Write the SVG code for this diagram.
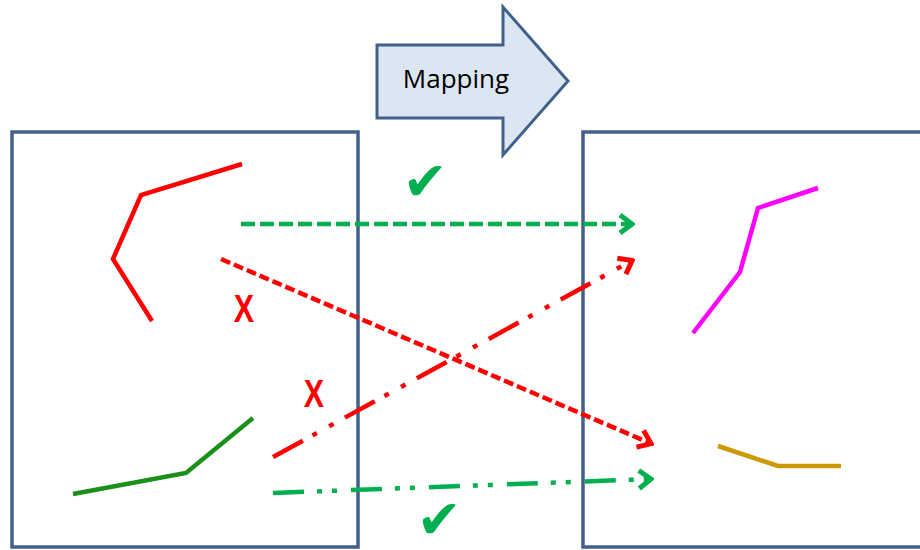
<svg xmlns="http://www.w3.org/2000/svg" width="920" height="550" viewBox="0 0 920 550">
  <style>
    .frame { fill: #ffffff; stroke: #41618A; stroke-width: 3.5; }
    .shape { fill: none; stroke-width: 4.5; stroke-linejoin: miter; }
    .conn { fill: none; stroke-width: 4.5; }
    .mark { font-family: "Liberation Sans", Arial, sans-serif; font-weight: bold; }
    .check { font-family: "DejaVu Sans", sans-serif; fill: #00B050; font-size: 54px; text-anchor: middle; }
  </style>
  <defs>
    <marker id="arrGreen" viewBox="0 0 18 24" refX="16" refY="12" markerWidth="18" markerHeight="24" markerUnits="userSpaceOnUse" orient="auto">
      <path d="M3,3 L15,12 L3,21" fill="none" stroke="#00B050" stroke-width="5"/>
    </marker>
    <marker id="arrRed" viewBox="0 0 18 24" refX="16" refY="12" markerWidth="18" markerHeight="24" markerUnits="userSpaceOnUse" orient="auto">
      <path d="M3,3 L15,12 L3,21" fill="none" stroke="#FF0000" stroke-width="5"/>
    </marker>
  </defs>
  <rect width="920" height="550" fill="#ffffff"/>

  <g id="mapping-arrow">
    <polygon points="377,45 503,45 503,7 568,81 503,155 503,118 377,118" fill="#DCE6F2" stroke="#41618A" stroke-width="3"/>
    <text x="456" y="88" font-family="'Open Sans', 'Liberation Sans', sans-serif" font-size="26" font-weight="500" text-anchor="middle" fill="#000000">Mapping</text>
  </g>

  <g id="left-box">
    <rect class="frame" x="12" y="132" width="346" height="415"/>
  </g>
  <g id="right-box">
    <rect class="frame" x="583" y="132" width="400" height="415"/>
  </g>

  <g id="red-curve">
    <polyline class="shape" stroke="#FF0000" points="242,164 141,195 113,259 152,321"/>
  </g>
  <g id="green-curve">
    <polyline class="shape" stroke="#1A8F1A" points="73,494 186,473 253,418"/>
  </g>
  <g id="magenta-curve">
    <polyline class="shape" stroke="#FF00FF" points="693,333 740,272 758,208 818,188"/>
  </g>
  <g id="gold-curve">
    <polyline class="shape" stroke="#CC9900" points="718,446 778,466 841,466"/>
  </g>

  <g id="connectors">
    <line class="conn" x1="241" y1="224" x2="633" y2="224" stroke="#00B050" stroke-dasharray="14 5" marker-end="url(#arrGreen)"/>
    <line class="conn" x1="221" y1="259" x2="652" y2="444" stroke="#FF0000" stroke-dasharray="10 4" marker-end="url(#arrRed)"/>
    <line class="conn" x1="273" y1="457" x2="633" y2="260" stroke="#FF0000" stroke-dasharray="34 11 5 14 5 13" marker-end="url(#arrRed)"/>
    <line class="conn" x1="273" y1="493" x2="652" y2="479" stroke="#00B050" stroke-dasharray="31 13 5 10 5 14" marker-end="url(#arrGreen)"/>
  </g>

  <g id="label-x1">
    <text class="mark" x="244" y="322" font-size="38" fill="#FF0000" text-anchor="middle" transform="translate(244 0) scale(0.8 1) translate(-244 0)">X</text>
  </g>
  <g id="label-x2">
    <text class="mark" x="314" y="407" font-size="38" fill="#FF0000" text-anchor="middle" transform="translate(314 0) scale(0.8 1) translate(-314 0)">X</text>
  </g>
  <g id="check-top">
    <text class="check" x="425" y="200">✔</text>
  </g>
  <g id="check-bottom">
    <text class="check" x="439" y="538">✔</text>
  </g>
</svg>
